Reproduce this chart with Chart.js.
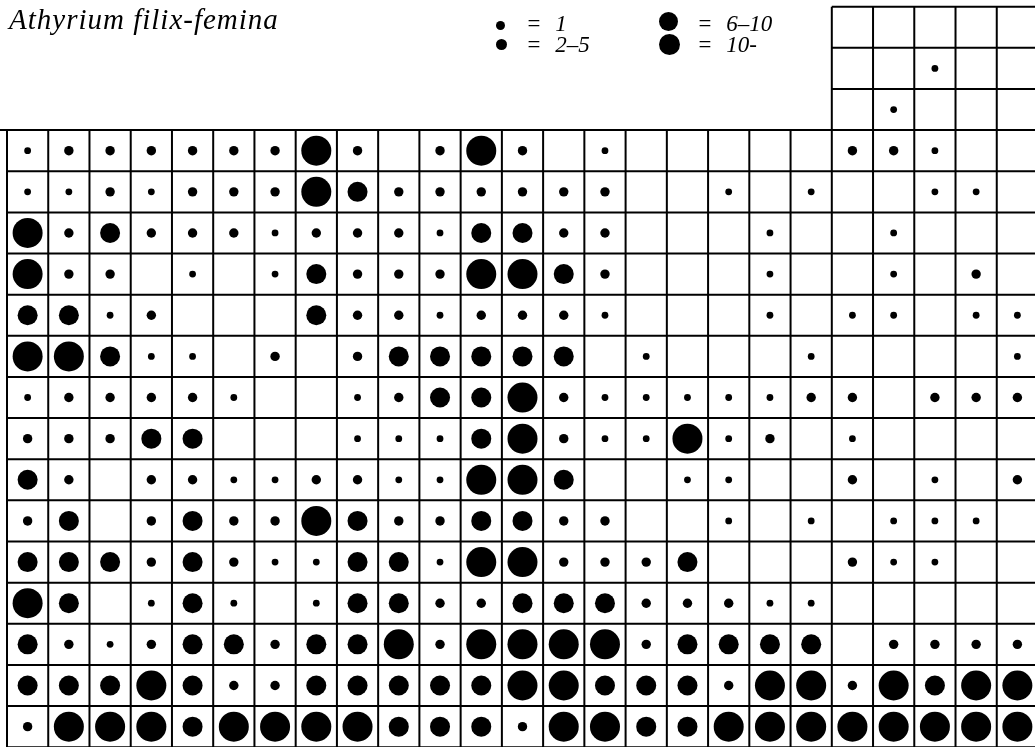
<!DOCTYPE html>
<html><head><meta charset="utf-8">
<script src="https://cdn.jsdelivr.net/npm/chart.js@4"></script>
<style>
html,body{margin:0;padding:0;background:#fff;overflow:hidden;width:1035px;height:747px;}
#wrap{position:relative;width:1035px;height:747px;overflow:hidden;background:#fff;}
canvas{position:absolute;left:0;top:0;}
.t{position:absolute;font-family:"Liberation Serif","DejaVu Serif","Times New Roman",serif;font-style:italic;color:#000;line-height:1;white-space:pre;}
.dot{position:absolute;border-radius:50%;background:#000;}
</style></head>
<body><div id="wrap">
<canvas id="c" width="1050" height="760"></canvas>
<div class="t" style="left:9px;top:5px;font-size:29px;letter-spacing:1px">Athyrium filix-femina</div>
<div class="dot" style="left:496px;top:20.5px;width:9px;height:9px"></div>
<div class="t" style="left:526px;top:12px;font-size:23px;word-spacing:8px">= 1</div>
<div class="dot" style="left:496px;top:38.5px;width:11.3px;height:11.3px"></div>
<div class="t" style="left:526px;top:33px;font-size:23px;word-spacing:8px">= 2–5</div>
<div class="dot" style="left:659px;top:12px;width:19px;height:19px"></div>
<div class="t" style="left:697px;top:12px;font-size:23px;word-spacing:8px">= 6–10</div>
<div class="dot" style="left:659px;top:33.5px;width:21px;height:21px"></div>
<div class="t" style="left:697px;top:33px;font-size:23px;word-spacing:8px">= 10-</div>
</div>
<script>
// Abundance classes per grid cell: 0 = none, 1 = "1", 2 = "2–5", 3 = "6–10", 4 = "10-"
const columns = [1,2,3,4,5,6,7,8,9,10,11,12,13,14,15,16,17,18,19,20,21,22,23,24,25];
const topColumns = [21,22,23,24,25];
const topRow1 = [0,0,0,0,0];
const topRow2 = [0,0,1,0,0];
const topRow3 = [0,1,0,0,0];
const row01 = [1,2,2,2,2,2,2,4,2,0,2,4,2,0,1,0,0,0,0,0,2,2,1,0,0];
const row02 = [1,1,2,1,2,2,2,4,3,2,2,2,2,2,2,0,0,1,0,1,0,0,1,1,0];
const row03 = [4,2,3,2,2,2,1,2,2,2,1,3,3,2,2,0,0,0,1,0,0,1,0,0,0];
const row04 = [4,2,2,0,1,0,1,3,2,2,2,4,4,3,2,0,0,0,1,0,0,1,0,2,0];
const row05 = [3,3,1,2,0,0,0,3,2,2,1,2,2,2,1,0,0,0,1,0,1,1,0,1,1];
const row06 = [4,4,3,1,1,0,2,0,2,3,3,3,3,3,0,1,0,0,0,1,0,0,0,0,1];
const row07 = [1,2,2,2,2,1,0,0,1,2,3,3,4,2,1,1,1,1,1,2,2,0,2,2,2];
const row08 = [2,2,2,3,3,0,0,0,1,1,1,3,4,2,1,1,4,1,2,0,1,0,0,0,0];
const row09 = [3,2,0,2,2,1,1,2,2,1,1,4,4,3,0,0,1,1,0,0,2,0,1,0,2];
const row10 = [2,3,0,2,3,2,2,4,3,2,2,3,3,2,2,0,0,1,0,1,0,1,1,1,0];
const row11 = [3,3,3,2,3,2,1,1,3,3,1,4,4,2,2,2,3,0,0,0,2,1,1,0,0];
const row12 = [4,3,0,1,3,1,0,1,3,3,2,2,3,3,3,2,2,2,1,1,0,0,0,0,0];
const row13 = [3,2,1,2,3,3,2,3,3,4,2,4,4,4,4,2,3,3,3,3,0,2,2,2,2];
const row14 = [3,3,3,4,3,2,2,3,3,3,3,3,4,4,3,3,3,2,4,4,2,4,3,4,4];
const row15 = [2,4,4,4,3,4,4,4,4,3,3,3,2,4,4,3,3,4,4,4,4,4,4,4,4];
const classLabels = ['1','2–5','6–10','10-'];

const topRows = [topRow1, topRow2, topRow3];
const mainRows = [row01,row02,row03,row04,row05,row06,row07,row08,row09,row10,row11,row12,row13,row14,row15];
const radiusByClass = {1: 3.4, 2: 4.7, 3: 10, 4: 15};

function pointsFor(cls) {
  const pts = [];
  topRows.forEach((row, r) => row.forEach((v, i) => {
    if (v === cls) pts.push({x: topColumns[i] - 0.5, y: r - 3 + 0.5});
  }));
  mainRows.forEach((row, r) => row.forEach((v, i) => {
    if (v === cls) pts.push({x: columns[i] - 0.5, y: r + 0.5});
  }));
  return pts;
}

const gridPlugin = {
  id: 'cellGrid',
  beforeDatasetsDraw(chart) {
    const {ctx, scales: {x, y}} = chart;
    ctx.save();
    ctx.strokeStyle = '#000';
    ctx.lineWidth = 2;
    ctx.beginPath();
    for (let r = -3; r <= 15; r++) {
      const py = y.getPixelForValue(r);
      const xs = x.getPixelForValue(r < 0 ? 20 : 0);
      ctx.moveTo(r === 0 ? 0 : xs, py);
      ctx.lineTo(x.getPixelForValue(25), py);
    }
    for (let c = 0; c <= 25; c++) {
      const px = x.getPixelForValue(c);
      ctx.moveTo(px, y.getPixelForValue(c >= 20 ? -3 : 0));
      ctx.lineTo(px, y.getPixelForValue(15));
    }
    ctx.stroke();
    ctx.restore();
  }
};

new Chart(document.getElementById('c'), {
  type: 'scatter',
  data: {
    datasets: [1,2,3,4].map(cls => ({
      label: classLabels[cls - 1],
      data: pointsFor(cls),
      pointRadius: radiusByClass[cls],
      pointHoverRadius: radiusByClass[cls],
      backgroundColor: '#000',
      borderWidth: 0,
      clip: false
    }))
  },
  options: {
    responsive: false,
    animation: false,
    events: [],
    layout: {autoPadding: false, padding: {left: 7, top: 6.7, right: 12, bottom: 12.8}},
    scales: {
      x: {type: 'linear', min: 0, max: 25, display: false},
      y: {type: 'linear', min: -3, max: 15, reverse: true, display: false}
    },
    plugins: {legend: {display: false}, tooltip: {enabled: false}, title: {display: false}}
  },
  plugins: [gridPlugin]
});
</script>
</body></html>
